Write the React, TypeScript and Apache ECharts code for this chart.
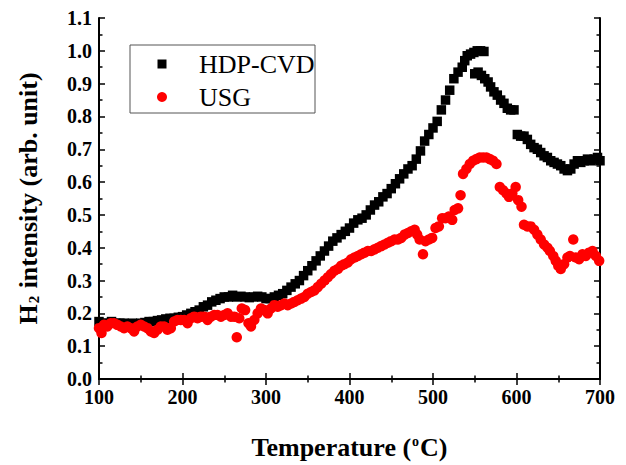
import React, { useEffect, useRef } from "react";
import * as echarts from "echarts";

const xTicks = [100, 200, 300, 400, 500, 600, 700];
const yTickLabels = ["0.0","0.1","0.2","0.3","0.4","0.5","0.6","0.7","0.8","0.9","1.0","1.1"];

const hdpTemps = [
  100,105,110,115,120,125,130,135,140,145,150,155,160,165,170,175,180,185,190,195,
  200,205,210,215,220,225,230,235,240,245,250,255,260,265,270,275,280,285,290,295,
  300,305,310,315,320,325,330,335,340,345,350,355,360,365,370,375,380,385,390,395,
  400,405,410,415,420,425,430,435,440,445,450,455,460,465,470,475,480,485,490,495,
  500,505,510,515,520,525,530,535,538,541,545,549,553,557,561,
  550,554,558,562,566,569,573,577,581,585,589,593,597,
  601,605,609,613,617,621,625,629,633,637,641,645,649,653,657,661,665,669,673,677,
  681,685,689,693,697,700
];
const hdpValues = [
  0.175,0.17,0.17,0.175,0.17,0.17,0.17,0.168,0.17,0.168,0.17,0.172,0.175,0.175,0.178,0.18,0.183,0.185,0.185,0.188,
  0.19,0.195,0.2,0.205,0.21,0.22,0.225,0.235,0.24,0.245,0.25,0.25,0.255,0.25,0.252,0.25,0.248,0.25,0.252,0.25,
  0.245,0.245,0.25,0.255,0.26,0.27,0.28,0.29,0.3,0.315,0.33,0.345,0.36,0.375,0.39,0.405,0.42,0.43,0.44,0.45,
  0.46,0.475,0.485,0.49,0.5,0.515,0.53,0.54,0.555,0.565,0.58,0.595,0.61,0.625,0.64,0.65,0.67,0.695,0.725,0.745,
  0.765,0.785,0.82,0.85,0.88,0.915,0.935,0.95,0.97,0.985,0.99,0.995,1.0,1.0,0.998,
  0.93,0.935,0.925,0.915,0.905,0.89,0.875,0.865,0.85,0.84,0.825,0.82,0.82,
  0.745,0.74,0.74,0.73,0.715,0.705,0.7,0.69,0.68,0.675,0.665,0.66,0.655,0.65,0.64,0.635,0.64,0.655,0.665,0.66,
  0.665,0.67,0.665,0.67,0.675,0.665
];

const usgTemps = [
  100,103,106,110,114,118,122,126,130,134,138,142,146,150,154,158,162,166,170,174,
  178,182,186,190,194,198,202,206,210,214,218,222,226,230,234,238,242,246,250,254,
  258,262,265,268,271,275,279,282,286,290,294,298,302,306,310,314,318,322,326,330,
  334,338,342,346,350,354,358,362,366,370,374,378,382,386,390,394,398,402,406,410,
  414,418,422,426,430,434,438,442,446,450,454,458,462,466,470,474,478,481,484,488,
  491,495,499,503,507,511,515,519,523,526,530,533,536,540,544,548,552,556,560,564,
  568,572,576,580,584,588,591,595,599,602,606,609,613,617,621,625,629,633,637,640,
  644,647,650,653,657,661,664,668,671,675,679,683,687,691,695,699
];
const usgValues = [
  0.155,0.14,0.165,0.16,0.17,0.17,0.165,0.16,0.155,0.16,0.155,0.145,0.16,0.165,0.16,0.155,0.145,0.14,0.15,0.16,
  0.16,0.15,0.155,0.175,0.18,0.18,0.18,0.17,0.185,0.19,0.185,0.19,0.19,0.18,0.19,0.195,0.195,0.19,0.195,0.2,
  0.19,0.19,0.127,0.185,0.215,0.21,0.17,0.16,0.18,0.2,0.215,0.21,0.2,0.215,0.225,0.22,0.225,0.23,0.225,0.23,
  0.235,0.24,0.245,0.25,0.26,0.265,0.27,0.28,0.29,0.3,0.31,0.32,0.33,0.335,0.345,0.35,0.355,0.365,0.37,0.375,
  0.38,0.385,0.39,0.39,0.395,0.4,0.405,0.41,0.415,0.42,0.425,0.425,0.43,0.44,0.445,0.45,0.455,0.44,0.425,0.38,
  0.42,0.425,0.43,0.46,0.465,0.49,0.49,0.495,0.485,0.515,0.52,0.56,0.625,0.64,0.655,0.665,0.67,0.675,0.675,0.675,
  0.67,0.665,0.655,0.585,0.575,0.565,0.555,0.565,0.585,0.545,0.525,0.47,0.465,0.465,0.455,0.44,0.425,0.41,0.4,0.39,
  0.375,0.36,0.345,0.335,0.35,0.37,0.375,0.425,0.37,0.365,0.38,0.375,0.385,0.39,0.375,0.36
];

const FONT = "'Liberation Serif', 'Times New Roman', serif";

export default function App() {
  const ref = useRef<HTMLDivElement>(null);
  useEffect(() => {
    if (!ref.current) return;
    const chart = echarts.init(ref.current, null, { renderer: "svg" });
    const hdp = hdpTemps.map((t, i) => [t, hdpValues[i]]);
    const usg = usgTemps.map((t, i) => [t, usgValues[i]]);
    const axisLine = { show: true, lineStyle: { color: "#000", width: 2 } };
    const axisTick = { show: true, inside: true, length: 6, lineStyle: { color: "#000", width: 1.5 } };
    const minorTick = { show: true, splitNumber: 2, length: 3.5, lineStyle: { color: "#000", width: 1.5 } };
    chart.setOption({
      animation: false,
      backgroundColor: "#fff",
      grid: { left: 99, right: 26, top: 18, bottom: 80, containLabel: false },
      xAxis: [
        {
          type: "value", min: 100, max: 700, interval: 100, position: "bottom",
          axisLine, axisTick, minorTick, splitLine: { show: false },
          axisLabel: {
            margin: 8, color: "#000", fontFamily: FONT, fontWeight: "bold", fontSize: 20,
            formatter: (v: number) => (xTicks.includes(v) ? String(v) : ""),
          },
          name: "Temperature ({sup|o}C)",
          nameLocation: "middle", nameGap: 55,
          nameTextStyle: {
            color: "#000", fontFamily: FONT, fontWeight: "bold", fontSize: 26,
            rich: {
              sup: { fontFamily: FONT, fontWeight: "bold", fontSize: 14, color: "#000", verticalAlign: "top", padding: [0, 1, 12, 1] },
            },
          },
        },
        {
          type: "value", min: 100, max: 700, interval: 100, position: "top",
          axisLine, axisTick, minorTick, splitLine: { show: false }, axisLabel: { show: false },
        },
      ],
      yAxis: [
        {
          type: "value", min: 0, max: 1.1, interval: 0.1, position: "left",
          axisLine, axisTick, minorTick, splitLine: { show: false },
          axisLabel: {
            margin: 7, color: "#000", fontFamily: FONT, fontWeight: "bold", fontSize: 20,
            formatter: (v: number) => yTickLabels[Math.round(v * 10)] ?? "",
          },
          name: "H{sub|2} intensity (arb. unit)",
          nameLocation: "middle", nameGap: 58, nameRotate: 90,
          nameTextStyle: {
            color: "#000", fontFamily: FONT, fontWeight: "bold", fontSize: 26,
            rich: {
              sub: { fontFamily: FONT, fontWeight: "bold", fontSize: 15, color: "#000", verticalAlign: "bottom", padding: [10, 1, 0, 1] },
            },
          },
        },
        {
          type: "value", min: 0, max: 1.1, interval: 0.1, position: "right",
          axisLine, axisTick, minorTick, splitLine: { show: false }, axisLabel: { show: false },
        },
      ],
      series: [
        {
          name: "HDP-CVD", type: "scatter", xAxisIndex: 0, yAxisIndex: 0,
          symbol: "rect", symbolSize: 9.5, itemStyle: { color: "#000", opacity: 1 },
          data: hdp,
        },
        {
          name: "USG", type: "scatter", xAxisIndex: 0, yAxisIndex: 0,
          symbol: "circle", symbolSize: 10.5, itemStyle: { color: "#ff0000", opacity: 1 },
          data: usg,
        },
      ],
      graphic: [
        { type: "rect", shape: { x: 130, y: 45, width: 185, height: 68 }, style: { fill: "#fff", stroke: "#555", lineWidth: 1 }, z: 10 },
        { type: "rect", shape: { x: 157.5, y: 59.5, width: 9, height: 9 }, style: { fill: "#000" }, z: 11 },
        { type: "circle", shape: { cx: 162, cy: 97, r: 5 }, style: { fill: "#ff0000" }, z: 11 },
        { type: "text", x: 199, y: 64, style: { text: "HDP-CVD", fontFamily: FONT, fontSize: 26, fill: "#000", verticalAlign: "middle" }, z: 11 },
        { type: "text", x: 199, y: 97, style: { text: "USG", fontFamily: FONT, fontSize: 26, fill: "#000", verticalAlign: "middle" }, z: 11 },
      ],
    });
    return () => chart.dispose();
  }, []);
  return <div ref={ref} style={{ position: "fixed", left: 0, top: 0, width: 626, height: 465 }} />;
}
